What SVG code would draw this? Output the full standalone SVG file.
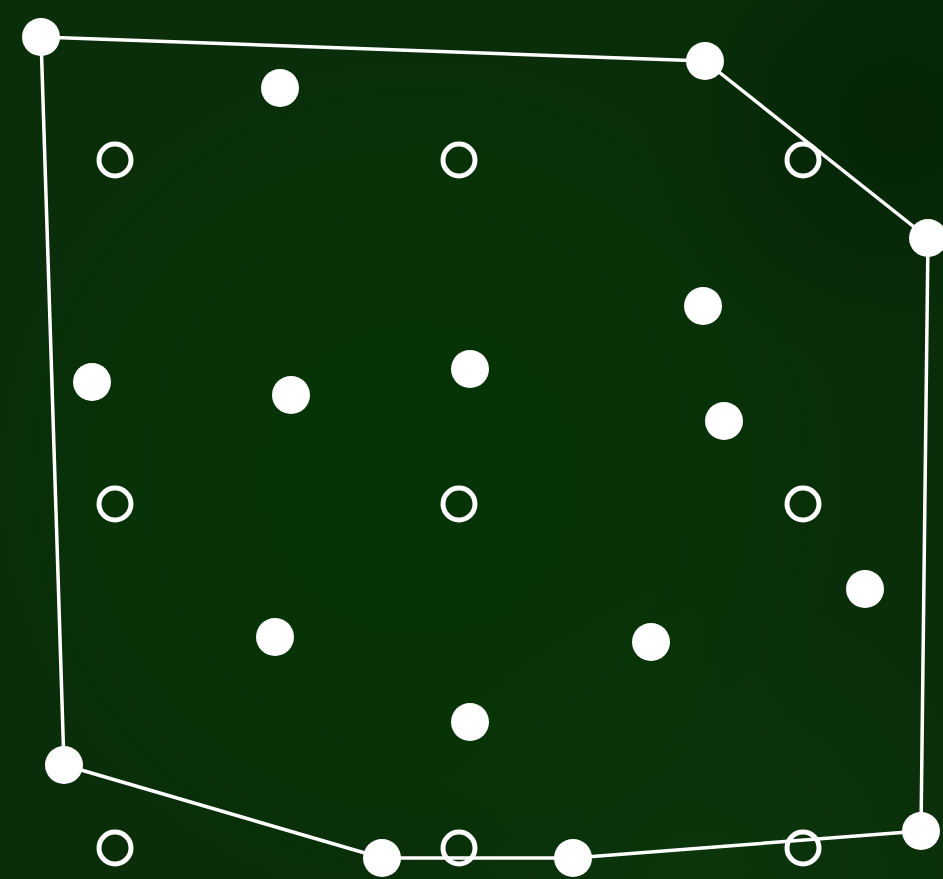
<svg xmlns="http://www.w3.org/2000/svg" width="943" height="879" viewBox="0 0 943 879">
<defs>
<radialGradient id="g1" cx="420" cy="480" r="430" gradientUnits="userSpaceOnUse">
<stop offset="0" stop-color="#063406"/><stop offset="0.6" stop-color="#073307"/><stop offset="1" stop-color="#073307" stop-opacity="0"/>
</radialGradient>
<radialGradient id="g2" cx="900" cy="120" r="260" gradientUnits="userSpaceOnUse">
<stop offset="0" stop-color="#052505"/><stop offset="1" stop-color="#052505" stop-opacity="0"/>
</radialGradient>
<radialGradient id="g3" cx="700" cy="879" r="300" gradientUnits="userSpaceOnUse">
<stop offset="0" stop-color="#0c360c"/><stop offset="1" stop-color="#0c360c" stop-opacity="0"/>
</radialGradient>
<style>
.f{fill:#fff}
.h{fill:none;stroke:#fff;stroke-width:5}
.e{fill:none;stroke:#fff;stroke-width:3.5;stroke-linejoin:round}
</style>
</defs>
<rect width="943" height="879" fill="#0a2e0a"/>
<rect width="943" height="879" fill="url(#g1)"/>
<rect width="943" height="879" fill="url(#g2)"/>
<rect width="943" height="879" fill="url(#g3)"/>
<g id="grid">
<circle id="h1" class="h" cx="115" cy="160" r="16"/>
<circle id="h2" class="h" cx="459" cy="160" r="16"/>
<circle id="h3" class="h" cx="803" cy="160" r="16"/>
<circle id="h4" class="h" cx="115" cy="504" r="16"/>
<circle id="h5" class="h" cx="459" cy="504" r="16"/>
<circle id="h6" class="h" cx="803" cy="504" r="16"/>
<circle id="h7" class="h" cx="115" cy="848" r="16"/>
<circle id="h8" class="h" cx="459" cy="848" r="16"/>
<circle id="h9" class="h" cx="803" cy="848" r="16"/>
</g>
<g id="connectors">
<polygon class="e" points="41,37 705,61 928,238 921,831 573,858 382,858 64,765"/>
</g>
<g id="points">
<circle id="p1" class="f" cx="41" cy="37" r="19"/>
<circle id="p2" class="f" cx="705" cy="61" r="19"/>
<circle id="p3" class="f" cx="928" cy="238" r="19"/>
<circle id="p4" class="f" cx="921" cy="831" r="19"/>
<circle id="p5" class="f" cx="573" cy="858" r="19"/>
<circle id="p6" class="f" cx="382" cy="858" r="19"/>
<circle id="p7" class="f" cx="64" cy="765" r="19"/>
<circle id="p8" class="f" cx="280" cy="88" r="19"/>
<circle id="p9" class="f" cx="92" cy="382" r="19"/>
<circle id="p10" class="f" cx="291" cy="395" r="19"/>
<circle id="p11" class="f" cx="470" cy="369" r="19"/>
<circle id="p12" class="f" cx="703" cy="306" r="19"/>
<circle id="p13" class="f" cx="724" cy="421" r="19"/>
<circle id="p14" class="f" cx="865" cy="589" r="19"/>
<circle id="p15" class="f" cx="651" cy="642" r="19"/>
<circle id="p16" class="f" cx="275" cy="637" r="19"/>
<circle id="p17" class="f" cx="470" cy="722" r="19"/>
</g>
</svg>
